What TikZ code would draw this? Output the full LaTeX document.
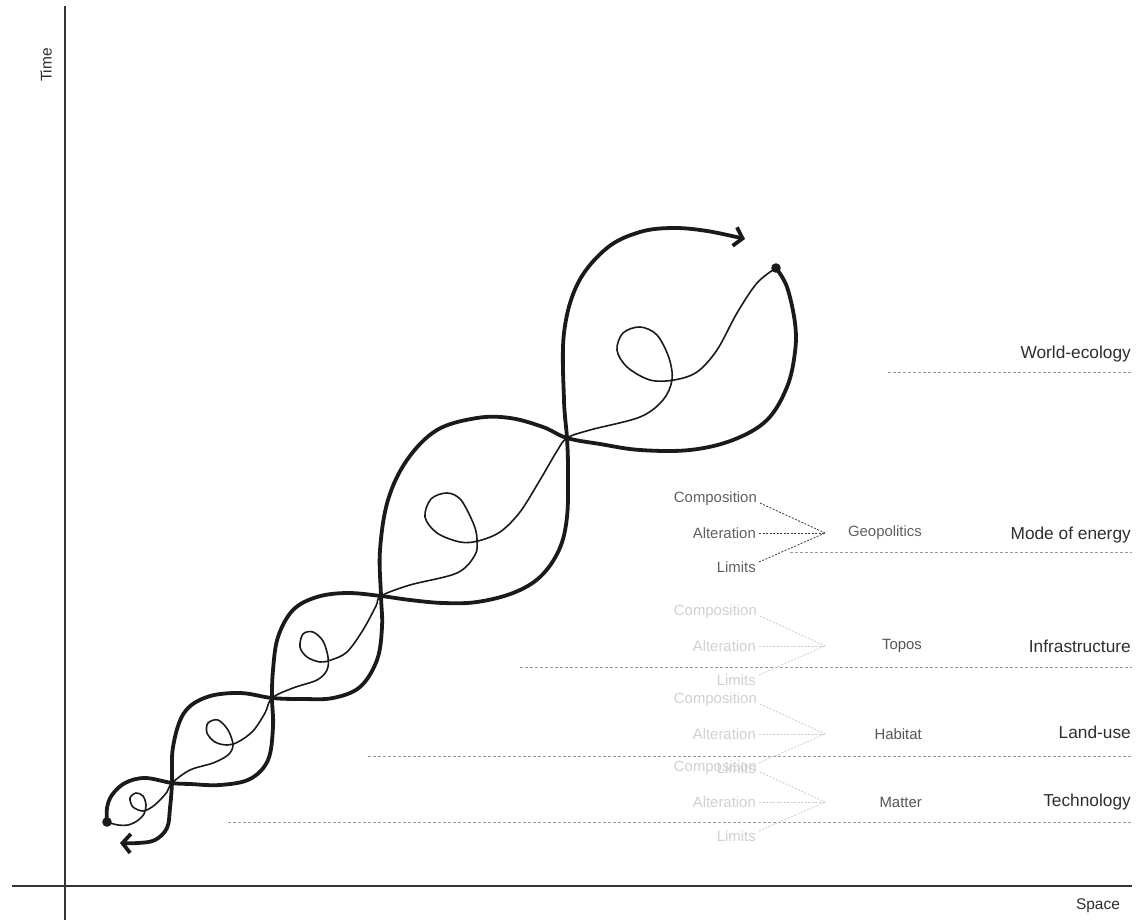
\documentclass[tikz,border=0pt]{standalone}
\usepackage{fontspec}
\setmainfont{Liberation Sans}
\usetikzlibrary{arrows.meta,calc}
\definecolor{ink}{HTML}{1A1A1A}
\definecolor{axiscol}{HTML}{333333}
\definecolor{lab}{HTML}{2E2E2E}
\definecolor{midgray}{HTML}{555555}
\definecolor{geogray}{HTML}{606060}
\definecolor{geoline}{HTML}{3A3A3A}
\definecolor{pale}{HTML}{D0D0D0}
\definecolor{paleline}{HTML}{CCCCCC}
\definecolor{rulecol}{HTML}{9A9A9A}
\newcommand{\ecoGroup}[6]{%
  \node[smalllab,text=#4] (#1c) at (757,{#2-34}) {Composition};
  \node[smalllab,text=#4] (#1a) at (756,#2) {Alteration};
  \node[smalllab,text=#4] (#1l) at (756,{#2+34}) {Limits};
  \coordinate (#1v) at (825,#2);
  \draw[conn,draw=#5] ($(#1c.east)+(3,4)$) -- (#1v);
  \draw[conn,draw=#5] ($(#1a.east)+(3,0)$) -- (#1v);
  \draw[conn,draw=#5] ($(#1l.east)+(3,-5)$) -- (#1v);
  \node[smalllab,text=#6] (#1t) at (922,#2) {#3};
}
\begin{document}
\begin{tikzpicture}[x=1pt,y=-1pt,
  biglab/.style={font=\fontsize{17.3}{19}\selectfont, text=lab, inner sep=0pt, anchor=base east},
  smalllab/.style={font=\fontsize{14.9}{16}\selectfont, inner sep=0pt, anchor=east},
  axislab/.style={font=\fontsize{15.5}{17}\selectfont, text=lab, inner sep=0pt},
  ruleline/.style={draw=rulecol, line width=0.9pt, dash pattern=on 3pt off 2pt},
  conn/.style={line width=0.8pt, dash pattern=on 2pt off 1.5pt},
  strandA/.style={draw=ink, line width=3.8pt, line cap=round, line join=round},
  strandB/.style={draw=ink, line width=1.6pt, line cap=round, line join=round},
  barb/.style={-{Straight Barb[length=8pt,width=19pt,line width=3.8pt]}},
]
\useasboundingbox (0,0) rectangle (1136,920);

% axes
\coordinate (ytop) at (65,6);
\coordinate (ybot) at (65,920);
\coordinate (xl) at (12,886);
\coordinate (xr) at (1132,886);
\draw[axiscol, line width=2pt] (ytop) -- (ybot);
\draw[axiscol, line width=2pt] (xl) -- (xr);
\node[axislab, rotate=90] (time) at (46,65) {Time};
\node[axislab] (space) at (1098,906) {Space};

% level labels and rules
\node[biglab] (we) at (1131,358) {World-ecology};
\node[biglab] (me) at (1131,539) {Mode of energy};
\node[biglab] (inf) at (1131,652) {Infrastructure};
\node[biglab] (lu) at (1131,738) {Land-use};
\node[biglab] (tec) at (1131,806) {Technology};
\coordinate (r1a) at (888,372); \coordinate (r1b) at (1132,372);
\coordinate (r2a) at (790,552); \coordinate (r2b) at (1132,552);
\coordinate (r3a) at (520,667); \coordinate (r3b) at (1132,667);
\coordinate (r4a) at (368,756); \coordinate (r4b) at (1132,756);
\coordinate (r5a) at (228,822); \coordinate (r5b) at (1132,822);
\draw[ruleline] (r1a) -- (r1b);
\draw[ruleline] (r2a) -- (r2b);
\draw[ruleline] (r3a) -- (r3b);
\draw[ruleline] (r4a) -- (r4b);
\draw[ruleline] (r5a) -- (r5b);

% groups
\ecoGroup{g}{533}{Geopolitics}{geogray}{geoline}{geogray}
\ecoGroup{t}{646}{Topos}{pale}{paleline}{midgray}
\ecoGroup{h}{734}{Habitat}{pale}{paleline}{midgray}
\ecoGroup{m}{802}{Matter}{pale}{paleline}{midgray}

% dots
\coordinate (dotlow) at (107,822);
\coordinate (dothigh) at (776,268);

% thick strand 1
\draw[strandA, barb] plot[smooth, tension=0.6] coordinates {
 (107,822) (107,808) (112,795) (125,783) (145,778) (172,783)
 (190,784) (220,785) (250,779) (268,760) (273,727) (272,698)
 (273,670) (278,637) (293,610) (317,597) (347,593) (381,596)
 (410,600) (443,603) (477,602) (513,593) (540,577) (559,550) (567,517) (568,470) (567,438)
 (564,400) (564,333) (578,283) (607,248) (640,232) (673,228) (707,231) (745,239)};

% thick strand 2
\draw[strandA, barb] plot[smooth, tension=0.6] coordinates {
 (776,268) (787,287) (795,323) (795,352) (787,387) (767,420) (733,440) (690,450) (640,450) (600,444) (567,438)
 (543,427) (510,418) (477,418) (437,430) (407,460) (388,500) (380,550) (381,596)
 (382,627) (377,660) (360,687) (333,698) (303,699) (272,698)
 (240,693) (207,697) (184,713) (173,747) (172,783)
 (170,808) (167,828) (155,840) (138,843) (120,843)};

% thin strand
\draw[strandB] plot[smooth, tension=0.55] coordinates {
 (107,822) (118,825) (128,825) (137,821) (144,814) (146,805) (143,796) (136,793) (130,798) (133,807) (143,811) (152,807) (160,800) (167,792) (172,783)
 (190,770) (213,763) (228,755) (233,745) (228,730) (218,720) (208,723) (207,733) (215,742) (227,745) (238,742) (253,731) (265,713) (272,698)
 (293,688) (317,680) (327,670) (328,657) (323,641) (313,632) (303,634) (300,647) (307,657) (320,662) (331,660) (347,652) (363,630) (376,606) (381,596)
 (410,585) (457,573) (475,555) (477,540) (474,525) (461,500) (447,493) (431,499) (425,517) (437,533) (460,542) (478,541) (500,532) (520,512) (540,480) (557,451) (567,438)
 (590,430) (640,417) (663,400) (672,380) (669,358) (657,335) (640,327) (623,333) (617,350) (627,367) (650,380) (674,380) (697,372) (717,350) (737,313) (757,283) (776,268)};

\fill[ink] (dotlow) circle (4.8);
\fill[ink] (dothigh) circle (4.8);
\end{tikzpicture}
\end{document}
